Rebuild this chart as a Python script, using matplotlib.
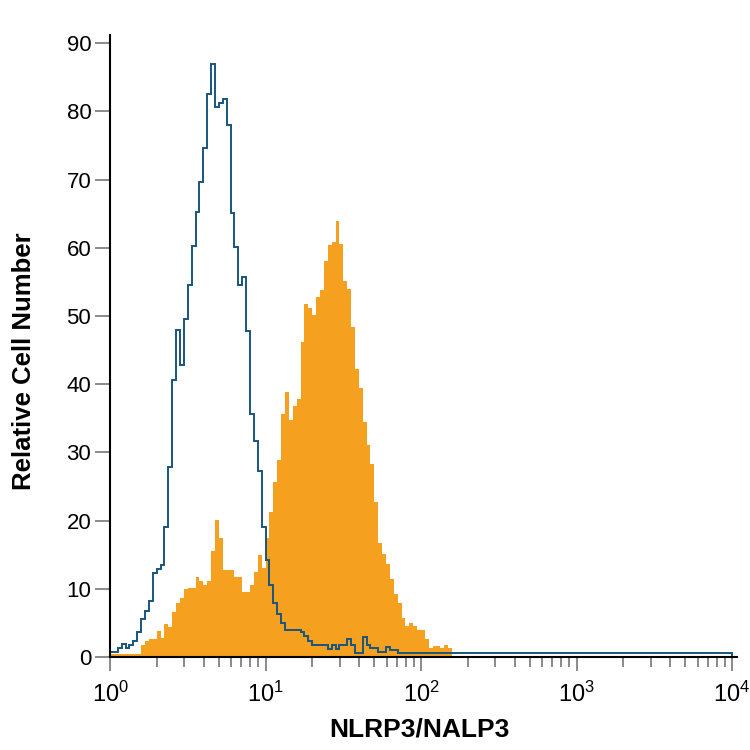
import numpy as np
import matplotlib
matplotlib.use("Agg")
import matplotlib.pyplot as plt
from matplotlib.ticker import LogLocator, FixedLocator

plt.rcParams['font.family'] = ['Liberation Sans', 'DejaVu Sans']
plt.rcParams['mathtext.fontset'] = 'custom'
plt.rcParams['mathtext.rm'] = 'Liberation Sans'

# histogram channels: 0.025 decade per bin, from 10^0
bin_step = 0.025

# isotype control (blue outline), counts per bin starting at 10^0
control_counts = [0.7, 0.7, 1.3, 1.9, 1.3, 1.8, 2.3, 3.7, 5.5, 6.7,
                  8.2, 12.3, 12.9, 13.5, 19.1, 27.9, 40.6, 47.9, 42.8, 49.6,
                  54.5, 60.2, 65.2, 69.6, 74.6, 82.5, 86.9, 80.7, 81.3, 81.8,
                  78.0, 65.1, 60.1, 54.5, 55.7, 47.8, 35.7, 31.7, 27.3, 19.0,
                  14.2, 10.6, 7.9, 6.3, 5.0, 4.0, 4.0, 4.0, 4.0, 3.6,
                  3.1, 2.3, 1.7, 1.7, 1.7, 1.7, 1.1, 1.7, 1.1, 1.7,
                  1.7, 2.7, 1.7, 0.6, 0.6, 3.0, 1.8, 1.3, 1.3, 0.7,
                  0.7, 1.5, 1.0, 1.0]
control_tail = 0.6   # flat level out to 10^4

# NLRP3 stained (orange filled), counts per bin starting at 10^0
nlrp3_counts = [0.4, 0.4, 0.4, 0.4, 0.4, 0.4, 0.4, 0.4, 1.7, 2.3,
                2.6, 2.6, 3.8, 2.8, 4.9, 4.4, 6.6, 7.9, 8.6, 9.9,
                10.1, 10.1, 11.7, 11.2, 10.6, 11.2, 15.6, 20.1, 17.4, 12.8,
                12.8, 12.8, 11.7, 11.7, 9.6, 9.6, 10.6, 12.5, 15.0, 13.0,
                17.4, 21.2, 25.6, 28.9, 35.7, 38.9, 34.7, 36.8, 37.8, 46.2,
                51.8, 51.2, 50.1, 52.8, 53.8, 58.0, 60.4, 60.8, 64.0, 60.6,
                55.2, 53.9, 48.4, 42.3, 39.4, 34.5, 31.1, 28.3, 22.8, 16.7,
                15.1, 13.7, 11.5, 9.3, 7.9, 5.7, 4.5, 5.0, 4.5, 4.0,
                3.9, 2.6, 1.3, 1.6, 1.6, 1.3, 1.8, 1.3]

yticks = [0, 10, 20, 30, 40, 50, 60, 70, 80, 90]

orange = '#f6a01f'
blue = '#17557f'
grey = '#8a8a8a'

nlrp3_edges = 10 ** (np.arange(len(nlrp3_counts) + 1) * bin_step)
ctrl_edges = list(10 ** (np.arange(len(control_counts) + 1) * bin_step)) + [1e4]
ctrl_vals = control_counts + [control_tail]

fig = plt.figure(figsize=(7.5, 7.5), dpi=100)
ax = fig.add_axes([0.1467, 0.124, 0.836, 0.8293])

ax.stairs(nlrp3_counts, nlrp3_edges, fill=True, color=orange, zorder=2)
ax.stairs(ctrl_vals, ctrl_edges, fill=False, color=blue, linewidth=1.4, zorder=3)

ax.set_xscale('log')
ax.set_xlim(1, 10 ** 4.032)
ax.set_ylim(0, 91.2)

ax.xaxis.set_major_locator(FixedLocator([1, 10, 100, 1000, 10000]))
ax.xaxis.set_minor_locator(LogLocator(base=10, subs=np.arange(2, 10), numticks=20))
ax.set_xticklabels([r'$\mathregular{10^{%d}}$' % i for i in range(5)])
ax.set_yticks(yticks)

for s in ['top', 'right']:
    ax.spines[s].set_visible(False)
for s in ['left', 'bottom']:
    ax.spines[s].set_linewidth(1.5)
    ax.spines[s].set_color('black')
    ax.spines[s].set_zorder(4)

ax.tick_params(axis='y', length=10.5, width=1.4, color=grey, labelsize=16, pad=3)
ax.tick_params(axis='x', which='major', length=10, width=1.4, color=grey, labelsize=17, pad=8)
ax.tick_params(axis='x', which='minor', length=7, width=1.4, color=grey)

ax.set_ylabel('Relative Cell Number', fontsize=18.5, fontweight='bold')
ax.set_xlabel('NLRP3/NALP3', fontsize=19, fontweight='bold', va='top')
ax.yaxis.set_label_coords(-0.118, 0.476)
ax.xaxis.set_label_coords(0.494, -0.097)

fig.savefig('out.png', dpi=100)
